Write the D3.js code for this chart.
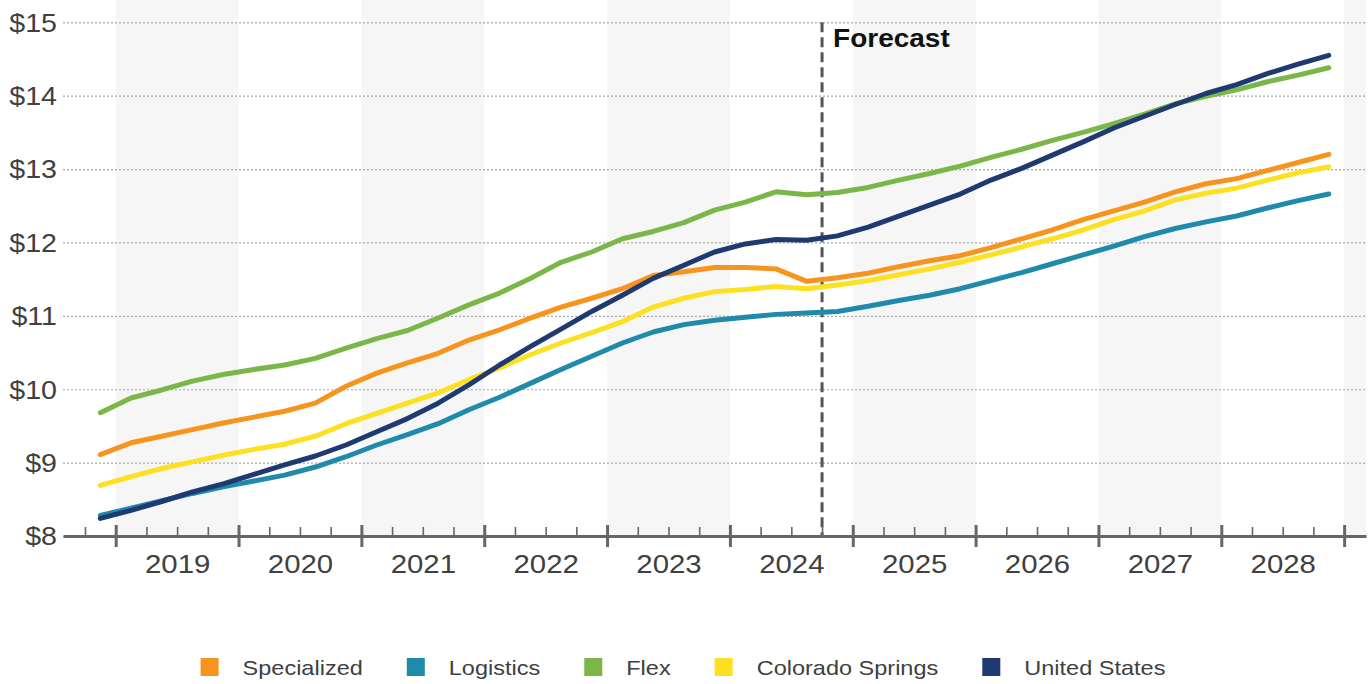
<!DOCTYPE html>
<html>
<head>
<meta charset="utf-8">
<script src="https://cdn.jsdelivr.net/npm/d3@7"></script>
<style>
  body { margin: 0; background: #fff; }
  svg text { font-family: "Liberation Sans", Arial, sans-serif; transform-box: fill-box; }
  .wide-end { transform-origin: right center; transform: scaleX(1.1); }
  .wide-mid { transform-origin: center center; transform: scaleX(1.13); }
  .wide-start { transform-origin: left center; transform: scaleX(1.12); }
</style>
</head>
<body>
<svg id="chart" width="1371" height="684"></svg>
<script>
// Quarterly periods (actuals through 2024 Q3, forecast afterwards)
const quarters = [
  "2018 Q4",
  "2019 Q1","2019 Q2","2019 Q3","2019 Q4",
  "2020 Q1","2020 Q2","2020 Q3","2020 Q4",
  "2021 Q1","2021 Q2","2021 Q3","2021 Q4",
  "2022 Q1","2022 Q2","2022 Q3","2022 Q4",
  "2023 Q1","2023 Q2","2023 Q3","2023 Q4",
  "2024 Q1","2024 Q2","2024 Q3","2024 Q4",
  "2025 Q1","2025 Q2","2025 Q3","2025 Q4",
  "2026 Q1","2026 Q2","2026 Q3","2026 Q4",
  "2027 Q1","2027 Q2","2027 Q3","2027 Q4",
  "2028 Q1","2028 Q2","2028 Q3","2028 Q4"
];
const yearLabels = [2019, 2020, 2021, 2022, 2023, 2024, 2025, 2026, 2027, 2028];
const yTicks = [8, 9, 10, 11, 12, 13, 14, 15];
const forecastStart = 2024.75;
const forecastLabel = "Forecast";

// Rent per square foot, by segment
const specialized = [9.11, 9.27, 9.36, 9.45, 9.54, 9.62, 9.70, 9.81, 10.04, 10.22,
  10.36, 10.49, 10.67, 10.81, 10.97, 11.12, 11.24, 11.37, 11.55, 11.60,
  11.66, 11.66, 11.64, 11.47, 11.52, 11.58, 11.67, 11.75, 11.82, 11.93,
  12.05, 12.17, 12.31, 12.43, 12.55, 12.69, 12.80, 12.87, 12.98, 13.09, 13.20];
const logistics = [8.28, 8.38, 8.48, 8.58, 8.67, 8.75, 8.83, 8.94, 9.08, 9.24,
  9.38, 9.53, 9.72, 9.89, 10.08, 10.27, 10.45, 10.63, 10.78, 10.88,
  10.94, 10.98, 11.02, 11.04, 11.06, 11.13, 11.21, 11.28, 11.37, 11.48,
  11.59, 11.71, 11.83, 11.95, 12.08, 12.19, 12.28, 12.36, 12.47, 12.57, 12.66];
const flex = [9.68, 9.88, 9.99, 10.11, 10.20, 10.27, 10.33, 10.42, 10.56, 10.69,
  10.80, 10.97, 11.15, 11.31, 11.51, 11.73, 11.87, 12.05, 12.15, 12.27,
  12.44, 12.55, 12.69, 12.65, 12.68, 12.75, 12.85, 12.94, 13.04, 13.16,
  13.27, 13.39, 13.50, 13.62, 13.75, 13.89, 13.99, 14.08, 14.19, 14.28, 14.38];
const coloradoSprings = [8.69, 8.81, 8.92, 9.01, 9.10, 9.18, 9.25, 9.36, 9.53, 9.67,
  9.81, 9.95, 10.13, 10.29, 10.47, 10.63, 10.77, 10.92, 11.12, 11.24,
  11.33, 11.36, 11.40, 11.37, 11.42, 11.48, 11.56, 11.64, 11.73, 11.83,
  11.94, 12.05, 12.17, 12.31, 12.43, 12.58, 12.67, 12.74, 12.85, 12.95, 13.03];
const unitedStates = [8.24, 8.35, 8.47, 8.60, 8.71, 8.84, 8.97, 9.09, 9.24, 9.42,
  9.60, 9.81, 10.06, 10.33, 10.58, 10.82, 11.06, 11.28, 11.51, 11.69,
  11.87, 11.98, 12.04, 12.03, 12.09, 12.21, 12.36, 12.51, 12.66, 12.85,
  13.01, 13.19, 13.37, 13.56, 13.72, 13.88, 14.03, 14.15, 14.30, 14.43, 14.55];

const seriesNames = ["Specialized", "Logistics", "Flex", "Colorado Springs", "United States"];
const seriesValues = [specialized, logistics, flex, coloradoSprings, unitedStates];
const seriesColors = ["#F7941D", "#1F8AAA", "#7AB648", "#FDE021", "#1E3A70"];

// ---- layout ----
const svg = d3.select("#chart");
const plotLeft = 63, plotRight = 1366, plotTop = 22.3, plotBottom = 536;
const textColor = "#404040";

// a quarter sits at the middle of its three months
const quarterPos = label => {
  const [yr, q] = label.split(" Q");
  return +yr + (+q - 0.5) / 4;
};

const x = d3.scaleLinear().domain([2018.571, 2029.178]).range([plotLeft, plotRight]);
const y = d3.scaleLinear().domain([8, 15]).range([plotBottom, plotTop]);

// alternating year shading
const shadedYears = [2019, 2021, 2023, 2025, 2027, 2029];
svg.append("g").selectAll("rect").data(shadedYears).join("rect")
  .attr("x", d => x(d))
  .attr("y", 0)
  .attr("width", d => Math.min(x(d + 1), plotRight) - x(d))
  .attr("height", plotBottom)
  .attr("fill", "#f6f6f6");

// horizontal gridlines and dollar labels
svg.append("g")
  .attr("transform", `translate(${plotLeft},0)`)
  .call(d3.axisLeft(y).tickValues(yTicks).tickSize(-(plotRight - plotLeft)).tickPadding(6)
    .tickFormat(d => "$" + d))
  .call(g => g.select(".domain").remove())
  .call(g => g.selectAll(".tick line")
    .attr("stroke", "#a8a8a8").attr("stroke-width", 1.2).attr("stroke-dasharray", "2,2"))
  .call(g => g.selectAll(".tick text").attr("class", "wide-end")
    .attr("fill", textColor).attr("font-size", 26).attr("dy", "0.34em"));

// forecast divider
svg.append("line")
  .attr("x1", x(forecastStart)).attr("x2", x(forecastStart))
  .attr("y1", plotTop).attr("y2", plotBottom)
  .attr("stroke", "#555").attr("stroke-width", 3).attr("stroke-dasharray", "10,5");
svg.append("text")
  .attr("class", "wide-start")
  .attr("x", x(forecastStart) + 11).attr("y", 47)
  .attr("font-size", 25).attr("font-weight", "bold").attr("fill", "#111")
  .text(forecastLabel);

// series lines
const line = d3.line()
  .x((d, i) => x(quarterPos(quarters[i])))
  .y(d => y(d));
svg.append("g").selectAll("path").data(seriesValues).join("path")
  .attr("d", d => line(d))
  .attr("fill", "none")
  .attr("stroke", (d, i) => seriesColors[i])
  .attr("stroke-width", 5)
  .attr("stroke-linejoin", "round")
  .attr("stroke-linecap", "round");

// x axis: quarter ticks, year ticks, year labels
const quarterBounds = d3.range(2018.75, 2029.01, 0.25).filter(v => Math.abs(v - Math.round(v)) > 0.01);
svg.append("g")
  .attr("transform", `translate(0,${plotBottom})`)
  .call(d3.axisBottom(x).tickValues(quarterBounds).tickSize(0).tickFormat(""))
  .call(g => g.select(".domain").attr("stroke", "#666").attr("stroke-width", 3))
  .call(g => g.selectAll(".tick line").attr("y1", -9).attr("y2", 0)
    .attr("stroke", "#666").attr("stroke-width", 1.6));

const yearBounds = d3.range(2019, 2030);
svg.append("g")
  .attr("transform", `translate(0,${plotBottom})`)
  .call(d3.axisBottom(x).tickValues(yearBounds).tickSize(0).tickFormat(""))
  .call(g => g.select(".domain").remove())
  .call(g => g.selectAll(".tick line").attr("y1", -11).attr("y2", 11)
    .attr("stroke", "#666").attr("stroke-width", 3));

svg.append("g")
  .attr("transform", `translate(0,${plotBottom})`)
  .call(d3.axisBottom(x).tickValues(yearLabels.map(d => d + 0.5)).tickSize(0).tickPadding(19)
    .tickFormat(d => String(Math.floor(d))))
  .call(g => g.select(".domain").remove())
  .call(g => g.selectAll(".tick text").attr("class", "wide-mid")
    .attr("fill", textColor).attr("font-size", 26));

// legend
const legend = svg.append("g");
const items = legend.selectAll("g").data(seriesNames).join("g");
items.append("rect").attr("width", 18).attr("height", 18).attr("y", -9)
  .attr("fill", (d, i) => seriesColors[i]);
items.append("text").attr("class", "wide-start").attr("x", 42).attr("y", 8)
  .attr("font-size", 21).attr("fill", textColor).text(d => d);
const offsets = [];
let cursor = 0;
items.each(function () {
  offsets.push(cursor);
  const t = d3.select(this).select("text").node();
  cursor += 42 + t.getComputedTextLength() * 1.12 + 44;
});
const totalW = cursor - 44;
const legendCenter = 683;
const legendStart = legendCenter - totalW / 2;
items.attr("transform", (d, i) => `translate(${legendStart + offsets[i]},667)`);
</script>
</body>
</html>
